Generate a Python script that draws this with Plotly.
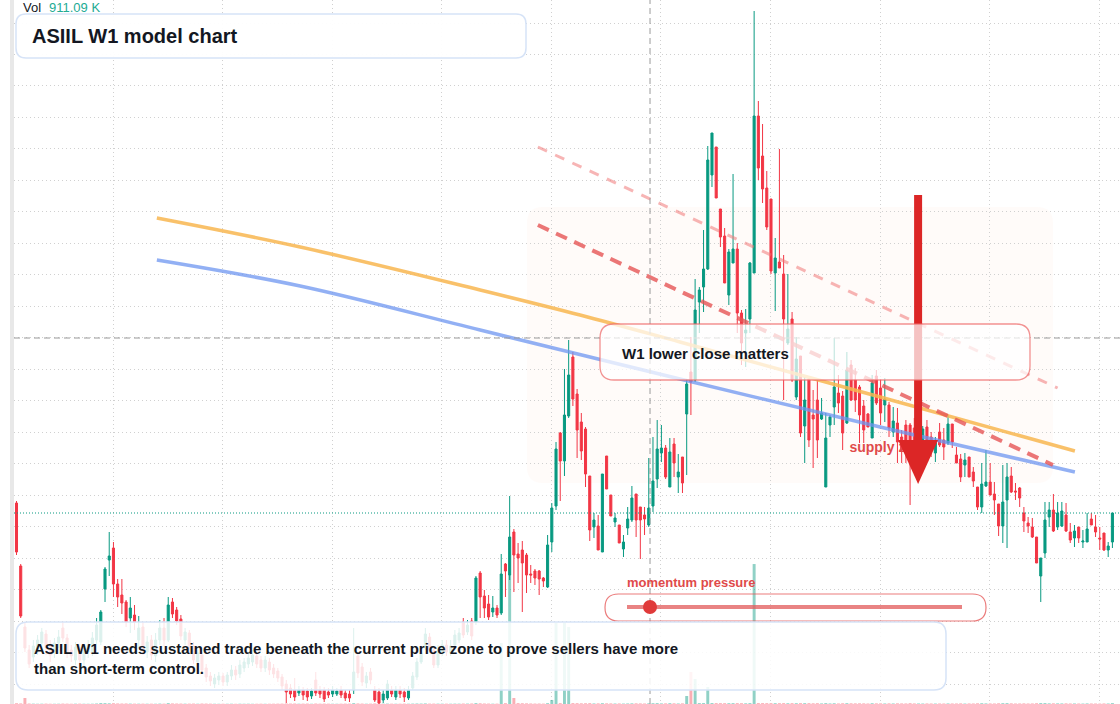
import plotly.graph_objects as go

# ---------------- data (weekly candles, index = week number) ----------------
idx = list(range(261))

open_ = [
    49.7, 43.4, 37.3, 35.0, 34.3, 35.0, 35.7, 36.6, 35.4, 34.8,
    35.7, 37.2, 36.2, 35.0, 34.0, 35.2, 34.0, 34.8, 34.8, 36.0,
    35.8, 41.1, 44.0, 45.2, 41.6, 40.5, 39.8, 38.2, 38.5, 36.0,
    37.3, 34.8, 36.0, 34.4, 36.0, 37.2, 36.0, 39.8, 39.0, 38.1,
    36.0, 36.7, 35.4, 33.8, 34.5, 33.2, 32.4, 31.6, 32.0, 32.4,
    31.8, 32.4, 33.0, 32.6, 33.2, 33.6, 33.8, 34.4, 34.0, 33.2,
    33.8, 33.2, 32.9, 32.3, 31.6, 31.2, 31.0, 30.7, 31.0, 30.9,
    30.4, 32.0, 31.0, 31.0, 30.8, 30.6, 30.6, 31.0, 30.7, 30.6,
    31.0, 34.4, 33.3, 31.7, 32.8, 31.0, 30.8, 30.0, 30.2, 31.0,
    30.3, 31.0, 30.8, 30.2, 31.2, 32.3, 33.8, 35.2, 36.3, 35.0,
    33.5, 34.8, 35.5, 34.7, 35.5, 36.0, 37.8, 36.8, 37.9, 37.8,
    42.7, 40.4, 39.6, 38.8, 39.2, 38.7, 43.6, 42.5, 46.8, 44.6,
    45.0, 44.5, 42.6, 42.9, 42.9, 42.2, 41.3, 45.8, 49.4, 56.7,
    53.9, 58.4, 64.3, 60.6, 57.8, 57.1, 52.4, 47.3, 47.4, 44.8,
    54.4, 50.5, 47.8, 47.5, 45.1, 47.2, 48.0, 50.6, 49.3, 48.5,
    47.5, 49.4, 52.1, 54.7, 55.2, 51.3, 55.6, 52.3, 54.3, 58.6,
    62.8, 62.0, 69.8, 71.3, 73.1, 82.5, 85.3, 79.1, 76.4, 70.5,
    73.7, 75.1, 68.7, 66.7, 68.1, 72.7, 88.4, 84.4, 81.2, 80.1,
    72.7, 73.8, 72.6, 65.7, 68.1, 60.3, 64.4, 57.4, 62.1, 58.5,
    60.0, 58.1, 51.3, 57.5, 59.3, 60.7, 60.4, 57.7, 63.5, 62.0,
    61.3, 59.4, 58.6, 56.2, 62.4, 61.2, 59.5, 59.5, 56.8, 57.7,
    56.3, 57.5, 57.5, 57.2, 55.5, 56.0, 57.3, 56.3, 54.7, 56.8,
    56.0, 55.7, 57.6, 54.5, 54.1, 53.5, 54.3, 52.8, 51.3, 49.3,
    51.4, 51.8, 50.6, 49.6, 47.4, 50.0, 52.4, 50.9, 51.2, 48.7,
    47.7, 47.3, 46.3, 42.4, 44.7, 48.3, 49.0, 47.3, 47.4, 48.5,
    46.8, 46.2, 47.3, 45.8, 45.8, 48.1, 47.3, 46.2, 46.7, 45.0,
    45.8,
]

high = [
    49.9, 43.6, 37.8, 35.5, 36.0, 36.5, 37.2, 37.0, 36.0, 36.2,
    37.0, 37.8, 36.6, 35.5, 35.8, 35.6, 35.5, 36.0, 36.8, 38.2,
    39.0, 43.3, 46.8, 45.8, 42.1, 42.1, 40.0, 40.3, 39.5, 38.4,
    37.8, 36.4, 36.5, 36.7, 38.0, 38.2, 40.3, 40.2, 39.3, 38.5,
    37.2, 37.0, 35.8, 35.0, 34.8, 33.6, 32.8, 32.6, 32.8, 32.7,
    32.8, 33.5, 33.4, 34.0, 34.2, 34.6, 35.0, 34.8, 34.4, 34.4,
    34.2, 33.6, 33.2, 32.6, 32.0, 31.6, 32.2, 31.4, 31.3, 31.2,
    31.2, 32.8, 31.4, 31.3, 31.2, 31.4, 31.2, 31.4, 31.0, 31.0,
    37.2, 34.8, 33.7, 32.8, 33.2, 31.4, 31.2, 31.0, 32.0, 31.4,
    31.4, 31.4, 31.2, 31.4, 32.8, 34.2, 35.2, 37.2, 36.7, 35.4,
    35.5, 36.0, 36.0, 36.0, 37.0, 37.2, 38.2, 38.0, 38.2, 42.4,
    42.9, 41.0, 40.5, 40.4, 39.5, 44.6, 43.7, 50.4, 47.1, 45.7,
    45.9, 44.7, 43.5, 43.1, 43.0, 42.3, 46.5, 49.7, 55.8, 56.8,
    63.1, 66.0, 64.8, 61.1, 58.7, 57.3, 52.4, 48.7, 48.5, 52.6,
    54.4, 50.5, 48.7, 47.5, 46.5, 49.3, 51.4, 50.6, 49.3, 49.3,
    54.2, 56.3, 58.0, 57.5, 55.5, 56.2, 56.2, 54.6, 54.3, 62.1,
    66.3, 72.1, 71.3, 77.0, 85.4, 86.7, 85.3, 79.1, 77.2, 75.1,
    82.6, 75.7, 69.0, 69.1, 73.8, 98.9, 89.9, 87.6, 82.9, 80.1,
    76.2, 85.1, 74.5, 72.6, 68.8, 66.3, 64.4, 62.3, 62.1, 61.0,
    62.0, 60.2, 58.7, 58.5, 66.2, 62.5, 60.9, 64.8, 64.0, 63.2,
    61.5, 60.0, 58.7, 62.5, 63.0, 62.1, 62.2, 59.8, 59.3, 59.2,
    57.0, 58.0, 57.7, 58.2, 58.0, 57.4, 58.0, 56.8, 56.3, 57.7,
    57.2, 58.5, 57.6, 55.3, 54.6, 54.7, 54.3, 53.3, 51.3, 53.7,
    55.0, 53.7, 51.8, 49.6, 53.5, 53.7, 53.3, 51.7, 51.3, 49.3,
    48.3, 48.2, 46.3, 44.2, 49.8, 49.8, 50.6, 49.8, 49.8, 49.7,
    47.7, 47.5, 47.3, 47.0, 48.7, 48.7, 48.5, 47.3, 46.7, 45.8,
    48.7,
]

low = [
    44.5, 38.2, 34.8, 33.2, 33.8, 34.5, 35.2, 34.5, 33.8, 34.2,
    35.2, 35.8, 34.2, 33.8, 33.5, 33.4, 33.4, 34.2, 34.4, 35.6,
    35.5, 39.8, 42.4, 40.3, 39.3, 38.6, 37.3, 36.7, 37.0, 35.2,
    34.5, 34.2, 34.0, 33.8, 35.5, 35.4, 35.8, 38.2, 37.5, 36.0,
    35.5, 34.8, 33.6, 33.4, 32.6, 31.8, 31.4, 31.2, 31.5, 31.4,
    31.4, 32.0, 32.0, 32.2, 32.8, 33.2, 33.4, 33.2, 32.8, 32.8,
    32.5, 32.2, 31.8, 31.0, 29.7, 30.2, 29.9, 30.4, 30.0, 29.9,
    30.1, 30.4, 30.2, 29.8, 30.2, 30.3, 30.4, 30.2, 29.9, 29.8,
    30.6, 32.2, 31.4, 31.2, 31.6, 29.8, 29.6, 29.7, 30.0, 30.3,
    30.0, 30.2, 29.8, 30.0, 31.0, 32.0, 33.6, 35.0, 34.7, 33.2,
    33.2, 34.4, 34.4, 34.4, 35.2, 35.7, 36.2, 36.5, 36.0, 37.5,
    38.2, 38.2, 38.0, 38.3, 38.2, 38.5, 40.3, 42.0, 40.8, 41.7,
    38.8, 40.7, 41.7, 41.5, 40.5, 41.3, 41.2, 44.8, 49.0, 49.9,
    52.4, 58.2, 59.4, 54.2, 54.0, 51.3, 45.9, 46.2, 45.0, 44.8,
    51.1, 48.4, 47.3, 45.7, 44.3, 46.5, 47.8, 46.3, 44.1, 46.5,
    47.3, 48.8, 51.2, 53.8, 52.1, 51.3, 52.3, 50.7, 50.7, 52.5,
    58.5, 61.8, 66.7, 68.8, 73.0, 81.3, 80.2, 75.3, 71.7, 69.5,
    73.7, 66.7, 63.5, 63.3, 66.7, 72.7, 82.0, 79.7, 77.0, 72.6,
    68.9, 73.2, 60.0, 65.5, 61.8, 60.0, 56.3, 53.7, 55.3, 53.2,
    54.2, 58.0, 51.3, 56.3, 57.5, 58.7, 55.0, 57.6, 59.9, 58.8,
    55.7, 55.7, 57.3, 56.2, 59.5, 57.5, 57.8, 56.3, 56.3, 53.7,
    53.7, 53.7, 49.5, 54.5, 54.8, 55.5, 55.3, 54.3, 53.8, 55.3,
    54.0, 55.5, 55.2, 53.7, 51.8, 52.3, 52.3, 51.3, 49.0, 48.7,
    51.3, 50.5, 48.5, 46.4, 45.7, 45.2, 50.7, 50.0, 49.3, 46.8,
    46.7, 46.2, 43.7, 39.8, 44.2, 47.3, 46.8, 47.0, 47.3, 46.8,
    45.7, 45.3, 45.7, 45.2, 45.8, 47.5, 46.3, 45.0, 44.9, 44.3,
    45.2,
]

close = [
    44.8, 38.4, 35.2, 33.6, 35.4, 36.0, 36.8, 35.2, 34.5, 35.7,
    36.3, 36.2, 34.8, 34.4, 35.3, 34.0, 35.0, 35.5, 36.2, 37.5,
    38.8, 43.1, 44.4, 41.6, 40.3, 39.7, 37.8, 39.2, 37.8, 37.2,
    35.0, 35.8, 34.5, 36.0, 37.2, 36.0, 39.5, 38.6, 37.9, 36.4,
    36.8, 35.2, 34.0, 34.7, 33.0, 32.3, 31.9, 32.2, 32.4, 31.8,
    32.5, 33.0, 32.5, 33.5, 33.8, 34.2, 34.5, 33.6, 33.2, 34.0,
    33.0, 32.6, 32.2, 31.4, 30.8, 30.6, 30.3, 31.0, 30.5, 30.3,
    30.9, 30.7, 30.6, 30.1, 30.5, 31.0, 30.9, 30.5, 30.2, 30.2,
    32.8, 32.7, 31.8, 32.4, 32.0, 30.0, 29.7, 30.6, 31.6, 30.6,
    31.0, 30.6, 30.3, 31.0, 32.4, 33.8, 34.7, 36.6, 35.0, 33.5,
    35.0, 35.5, 34.8, 35.4, 36.5, 36.7, 36.5, 37.5, 36.4, 42.2,
    40.3, 39.2, 38.3, 39.2, 38.5, 42.6, 42.9, 46.3, 44.5, 44.2,
    43.7, 42.5, 42.5, 42.2, 42.1, 41.9, 45.5, 49.2, 55.1, 53.9,
    58.5, 62.5, 60.1, 57.0, 54.9, 52.6, 47.0, 48.0, 45.0, 52.6,
    51.1, 48.4, 48.2, 45.7, 45.8, 48.1, 50.2, 48.0, 48.0, 48.1,
    49.2, 51.9, 55.1, 55.2, 52.3, 54.8, 53.7, 52.8, 51.7, 61.6,
    61.8, 69.0, 71.0, 73.1, 84.0, 86.7, 80.2, 76.3, 71.7, 74.8,
    75.1, 68.7, 65.7, 67.0, 73.7, 88.4, 83.2, 81.1, 77.3, 72.9,
    74.2, 73.2, 68.1, 67.1, 62.0, 64.1, 56.7, 60.0, 56.0, 58.1,
    56.0, 58.7, 56.2, 58.3, 61.3, 59.7, 56.7, 63.0, 60.0, 60.0,
    58.5, 57.0, 57.3, 61.7, 59.7, 58.7, 60.1, 57.2, 57.9, 55.8,
    55.0, 56.0, 55.7, 55.5, 57.0, 57.1, 55.5, 55.5, 55.7, 55.5,
    55.3, 57.6, 55.8, 53.7, 52.3, 54.0, 52.3, 51.9, 49.3, 51.6,
    51.8, 50.5, 50.0, 47.4, 49.8, 52.3, 50.8, 50.8, 50.2, 47.9,
    47.4, 46.3, 43.7, 44.2, 48.0, 49.0, 46.9, 48.7, 48.9, 46.9,
    46.0, 46.9, 46.2, 45.9, 47.1, 47.5, 46.8, 46.1, 45.0, 45.4,
    48.7,
]

volume_k = [
    820, 640, 6400, 510, 380, 290, 340, 420, 300, 260,
    310, 450, 380, 290, 350, 410, 300, 280, 330, 520,
    960, 880, 720, 840, 610, 530, 560, 430, 390, 350,
    410, 330, 370, 300, 450, 380, 900, 640, 520, 470,
    360, 420, 480, 310, 520, 450, 380, 290, 260, 300,
    280, 310, 250, 330, 290, 320, 270, 300, 340, 260,
    310, 350, 380, 420, 560, 480, 510, 330, 400, 450,
    290, 520, 380, 440, 360, 300, 280, 350, 420, 390,
    870, 610, 480, 330, 410, 560, 590, 380, 420, 360,
    310, 340, 400, 320, 450, 520, 480, 610, 430, 460,
    390, 350, 370, 330, 410, 380, 520, 440, 560, 930,
    760, 540, 480, 360, 400, 65000, 880, 137400, 6400, 940,
    820, 700, 560, 480, 510, 420, 860, 4300, 86300, 920,
    86300, 82000, 960, 900, 780, 820, 940, 620, 700, 860,
    740, 680, 520, 610, 480, 560, 690, 720, 650, 540,
    720, 830, 910, 640, 700, 860, 740, 580, 690, 8500,
    34100, 26600, 950, 980, 18100, 990, 970, 920, 880, 840,
    900, 960, 880, 740, 930, 149100, 990, 960, 910, 940,
    860, 900, 950, 780, 920, 840, 930, 870, 910, 760,
    880, 640, 920, 600, 780, 620, 800, 850, 760, 690,
    720, 690, 540, 820, 700, 680, 560, 700, 590, 740,
    650, 620, 880, 640, 580, 520, 610, 560, 500, 580,
    540, 600, 590, 560, 690, 480, 620, 580, 760, 820,
    640, 610, 570, 780, 860, 900, 720, 540, 600, 690,
    560, 620, 830, 960, 940, 680, 730, 650, 620, 700,
    590, 560, 540, 480, 620, 560, 530, 470, 620, 540,
    911.09,
]

# model lines (index, price)
orange_x = [33.3, 67.3, 110.0, 133.7, 157.4, 204.9, 251.1]
orange_y = [78.2, 75.3, 71.0, 68.5, 65.8, 60.3, 54.9]
blue_x = [33.3, 67.3, 110.0, 157.4, 204.9, 251.1]
blue_y = [74.0, 71.4, 67.0, 62.1, 57.3, 52.8]
dash_heavy_x = [123.7, 245.9]
dash_heavy_y = [77.5, 53.5]
dash_light_x = [123.7, 247.0]
dash_light_y = [85.3, 61.2]
zone_x = [121.1, 245.9]
zone_y = [51.7, 79.3]
arrow_x = 213.9
arrow_top, arrow_base, arrow_tip = 80.5, 56.0, 51.6
crosshair_x, crosshair_y = 150.3, 66.2
supply_x, supply_y = 197.6, 55.2

# ---------------- geometry helpers ----------------
W, H = 1120, 704
ML = 14
X_RANGE = [-0.593, 261.8]
Y_RANGE = [29.6, 100.0]
PPX = (W - ML) / (X_RANGE[1] - X_RANGE[0])
PPY = H / (Y_RANGE[1] - Y_RANGE[0])

GREEN = "#089981"
RED = "#f23645"
DARK = "#131722"
FONT = "Liberation Sans, Arial, sans-serif"


def paper(px, py):
    return (px - ML) / (W - ML), 1 - py / H


def px_to_data(px, py):
    return X_RANGE[0] + (px - ML) / PPX, Y_RANGE[1] - py / PPY


def data_to_px(x, y):
    return ML + (x - X_RANGE[0]) * PPX, (Y_RANGE[1] - y) * PPY


def rr_path(x0, y0, x1, y1, r, conv):
    def P(x, y):
        a, b = conv(x, y)
        return f"{a:.6f},{b:.6f}"
    return (f"M{P(x0 + r, y0)} L{P(x1 - r, y0)} Q{P(x1, y0)} {P(x1, y0 + r)} "
            f"L{P(x1, y1 - r)} Q{P(x1, y1)} {P(x1 - r, y1)} L{P(x0 + r, y1)} "
            f"Q{P(x0, y1)} {P(x0, y1 - r)} L{P(x0, y0 + r)} Q{P(x0, y0)} {P(x0 + r, y0)} Z")


fig = go.Figure()

vol_colors = ["rgba(8,153,129,0.45)" if c >= o else "rgba(242,54,69,0.4)"
              for o, c in zip(open_, close)]
fig.add_trace(go.Bar(x=idx, y=volume_k, marker=dict(color=vol_colors, line=dict(width=0)),
                     width=0.7, yaxis="y2", hoverinfo="skip", showlegend=False))

fig.add_trace(go.Candlestick(
    x=idx, open=open_, high=high, low=low, close=close,
    increasing=dict(line=dict(color=GREEN, width=1), fillcolor=GREEN),
    decreasing=dict(line=dict(color=RED, width=1), fillcolor=RED),
    whiskerwidth=0, showlegend=False, hoverinfo="skip"))

fig.add_trace(go.Scatter(x=orange_x, y=orange_y, mode="lines",
                         line=dict(color="rgba(248,182,80,0.85)", width=3.5, shape="spline"),
                         hoverinfo="skip", showlegend=False))
fig.add_trace(go.Scatter(x=blue_x, y=blue_y, mode="lines",
                         line=dict(color="rgba(110,150,240,0.75)", width=3.5, shape="spline"),
                         hoverinfo="skip", showlegend=False))
fig.add_trace(go.Scatter(x=dash_light_x, y=dash_light_y, mode="lines",
                         line=dict(color="rgba(240,120,120,0.55)", width=3, dash="10px,9px"),
                         hoverinfo="skip", showlegend=False))
fig.add_trace(go.Scatter(x=dash_heavy_x, y=dash_heavy_y, mode="lines",
                         line=dict(color="rgba(230,85,85,0.8)", width=4, dash="12px,8px"),
                         hoverinfo="skip", showlegend=False))
fig.add_trace(go.Scatter(x=[supply_x], y=[supply_y], mode="text", text=["<b>supply zone</b>"],
                         textposition="middle right",
                         textfont=dict(size=14, color="#e04a4a", family=FONT),
                         hoverinfo="skip", showlegend=False))

shapes = []
# zone
zx0, zy0 = data_to_px(zone_x[0], zone_y[1])
zx1, zy1 = data_to_px(zone_x[1], zone_y[0])
shapes.append(dict(type="path", xref="x", yref="y", layer="below",
                   path=rr_path(zx0, zy0, zx1, zy1, 16, px_to_data),
                   fillcolor="rgba(252,232,215,0.16)", line=dict(width=0)))
# left scale strip
shapes.append(dict(type="rect", xref="paper", yref="paper", x0=-4 / (W - ML), x1=0, y0=0, y1=1,
                   fillcolor="#e8e8e8", line=dict(width=0)))
# last price line
shapes.append(dict(type="line", xref="paper", yref="y", x0=0, x1=1, y0=close[-1], y1=close[-1],
                   line=dict(color=GREEN, width=1, dash="1px,2px"), layer="above"))
# crosshair
shapes.append(dict(type="line", xref="paper", yref="y", x0=0, x1=1, y0=crosshair_y, y1=crosshair_y,
                   line=dict(color="#9a9a9a", width=1, dash="6px,4px"), layer="above"))
shapes.append(dict(type="line", xref="x", yref="paper", x0=crosshair_x, x1=crosshair_x, y0=0, y1=1,
                   line=dict(color="#9a9a9a", width=1, dash="6px,4px"), layer="above"))
# arrow
shapes.append(dict(type="line", xref="x", yref="y", x0=arrow_x, x1=arrow_x, y0=arrow_top, y1=arrow_base,
                   line=dict(color="#dc2626", width=8), layer="above"))
half = 20 / PPX
shapes.append(dict(type="path", xref="x", yref="y", layer="above",
                   path=f"M{arrow_x - half},{arrow_base} L{arrow_x + half},{arrow_base} L{arrow_x},{arrow_tip} Z",
                   fillcolor="#dc2626", line=dict(width=0)))
# W1 box
shapes.append(dict(type="path", xref="paper", yref="paper", layer="above",
                   path=rr_path(600, 324, 1030, 380, 14, paper),
                   fillcolor="rgba(255,255,255,0.72)", line=dict(color="rgba(236,100,100,0.7)", width=1.3)))
# title box
shapes.append(dict(type="path", xref="paper", yref="paper", layer="above",
                   path=rr_path(16, 14, 526, 58, 10, paper),
                   fillcolor="rgba(255,255,255,0.94)", line=dict(color="#d6e3f7", width=1.5)))
# momentum box + slider
shapes.append(dict(type="path", xref="paper", yref="paper", layer="above",
                   path=rr_path(605, 594, 986, 621, 13.5, paper),
                   fillcolor="rgba(255,255,255,0)", line=dict(color="rgba(228,80,80,0.75)", width=1.2)))
sx0, sy = paper(627, 607)
sx1, _ = paper(962, 607)
shapes.append(dict(type="line", xref="paper", yref="paper", x0=sx0, x1=sx1, y0=sy, y1=sy,
                   line=dict(color="rgba(226,90,90,0.75)", width=4), layer="above"))
dx0, dy0 = paper(643, 614)
dx1, dy1 = paper(657, 600)
shapes.append(dict(type="circle", xref="paper", yref="paper", x0=dx0, x1=dx1, y0=dy0, y1=dy1,
                   fillcolor="#e03a3a", line=dict(width=0), layer="above"))
# bottom note box
shapes.append(dict(type="path", xref="paper", yref="paper", layer="above",
                   path=rr_path(16, 622, 946, 690, 12, paper),
                   fillcolor="rgba(255,255,255,0.86)", line=dict(color="#d6e3f7", width=1.5)))


def ann(px, py, text, size, color, **kw):
    x, y = paper(px, py)
    d = dict(x=x, y=y, xref="paper", yref="paper", text=text, showarrow=False,
             xanchor="left", yanchor="middle", align="left",
             font=dict(size=size, color=color, family=FONT))
    d.update(kw)
    return d


annotations = [
    ann(21, 8, "Vol", 13, DARK),
    ann(47, 8, f"{volume_k[-1]:.2f} K", 13, "#22ab94"),
    ann(30, 36, "<b>ASIIL W1 model chart</b>", 20, DARK),
    ann(620, 353, "<b>W1 lower close matters</b>", 15, DARK),
    ann(625, 582, "<b>momentum pressure</b>", 13, "#e04a4a"),
    ann(32, 658, "<b>ASIIL W1 needs sustained trade beneath the current price zone to prove sellers have more"
                 "<br>than short-term control.</b>", 15, DARK),
]

fig.update_layout(
    width=W, height=H,
    margin=dict(l=ML, r=0, t=0, b=0),
    paper_bgcolor="white", plot_bgcolor="white",
    showlegend=False,
    shapes=shapes, annotations=annotations,
    xaxis=dict(range=X_RANGE, showgrid=True, gridcolor="#d0d0d0", griddash="1px,3px", gridwidth=1,
               tick0=22.9, dtick=26, showticklabels=False, ticks="", zeroline=False,
               showline=False, rangeslider=dict(visible=False), fixedrange=True),
    yaxis=dict(range=Y_RANGE, showgrid=True, gridcolor="#d0d0d0", griddash="1px,3px", gridwidth=1,
               tick0=97.7, dtick=3.148, showticklabels=False, ticks="", zeroline=False,
               showline=False, fixedrange=True),
    yaxis2=dict(range=[0, 750000], overlaying="y", visible=False, fixedrange=True),
    bargap=0.3,
)

fig.write_html("out.html", config={"displayModeBar": False})
